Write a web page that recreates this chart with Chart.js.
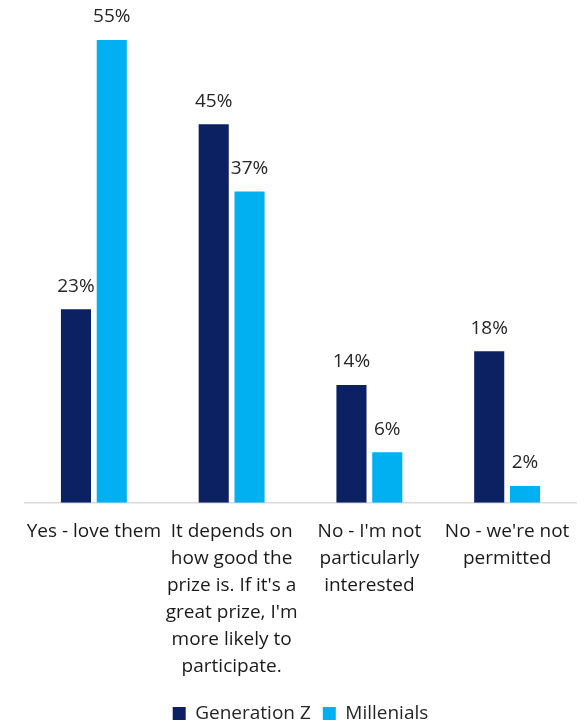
<!DOCTYPE html>
<html>
<head>
<meta charset="utf-8">
<script src="https://cdn.jsdelivr.net/npm/chart.js@4"></script>
<style>
  html, body { margin: 0; padding: 0; background: #fff; }
  canvas { display: block; }
</style>
</head>
<body>
<canvas id="barChart" width="588" height="722"></canvas>
<script>
const categories = [
    ['Yes - love them'],
    ['It depends on', 'how good the', "prize is. If it's a", "great prize, I'm", 'more likely to', 'participate.'],
    ["No - I'm not", 'particularly', 'interested'],
    ["No - we're not", 'permitted']
];
const genZ = [23, 45, 14, 18];
const millenials = [55, 37, 6, 2];

const FONT = '"Open Sans", sans-serif';

// percentage labels above each bar
const valueLabels = {
    id: 'valueLabels',
    afterDatasetsDraw(chart) {
        const ctx = chart.ctx;
        ctx.save();
        ctx.font = '19px ' + FONT;
        ctx.fillStyle = '#262626';
        ctx.textAlign = 'center';
        ctx.textBaseline = 'middle';
        chart.data.datasets.forEach((ds, i) => {
            chart.getDatasetMeta(i).data.forEach((bar, j) => {
                ctx.fillText(ds.data[j] + '%', bar.x, bar.y - 23);
            });
        });
        ctx.restore();
    }
};

const barCtx = document.getElementById('barChart').getContext('2d');
new Chart(barCtx, {
    type: 'bar',
    data: {
        labels: categories,
        datasets: [{
            label: 'Generation Z',
            data: genZ,
            backgroundColor: '#0b2161',
            categoryPercentage: 0.52,
            barPercentage: 0.84
        }, {
            label: 'Millenials',
            data: millenials,
            backgroundColor: '#00b0f0',
            categoryPercentage: 0.52,
            barPercentage: 0.84
        }]
    },
    options: {
        responsive: false,
        animation: false,
        layout: { padding: { top: 40, left: 25, right: 12, bottom: -11 } },
        plugins: {
            legend: {
                position: 'bottom',
                labels: {
                    color: '#262626',
                    font: { family: FONT, size: 19 },
                    boxWidth: 13,
                    boxHeight: 13,
                    padding: 12
                }
            },
            tooltip: { enabled: false }
        },
        scales: {
            x: {
                grid: { display: false },
                border: { color: '#d9d9d9', width: 1.5 },
                ticks: {
                    color: '#1a1a1a',
                    font: { family: FONT, size: 19, lineHeight: 27 / 19 },
                    padding: 7,
                    maxRotation: 0,
                    autoSkip: false
                },
                // blank title only used as spacer above the legend
                title: { display: true, text: ' ', font: { size: 1 }, padding: { top: 0, bottom: 4 } }
            },
            y: {
                display: false,
                min: 0,
                max: 55
            }
        }
    },
    plugins: [valueLabels]
});
</script>
</body>
</html>
